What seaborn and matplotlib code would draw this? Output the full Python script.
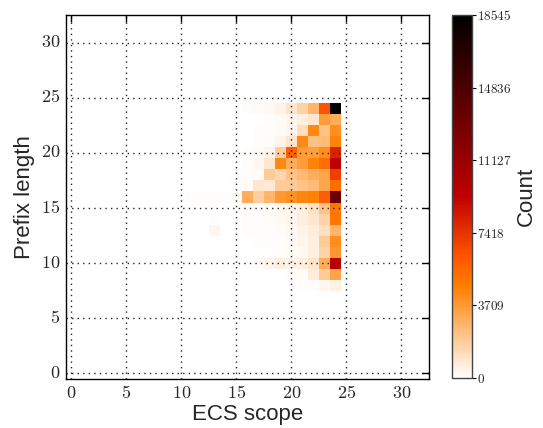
import numpy as np
import pandas as pd
import matplotlib
matplotlib.use("Agg")
import matplotlib.pyplot as plt
import seaborn as sns

# bins 0..32 on both axes
ecs_scope = list(range(33))
prefix_len = list(range(33))

# counts per prefix length, for ECS scope 10..24 (everything else is 0)
x_first = 10
row_24 = [0, 0, 0, 0, 20, 40, 80, 150, 250, 500, 1000, 1600, 2700, 6300, 18545]
row_23 = [0, 0, 0, 0, 0, 20, 40, 60, 100, 200, 400, 600, 900, 3600, 3000]
row_22 = [0, 0, 0, 0, 0, 20, 40, 80, 120, 200, 300, 1200, 4300, 2200, 4100]
row_21 = [0, 0, 0, 0, 0, 30, 60, 100, 150, 400, 1000, 4300, 2300, 2500, 4500]
row_20 = [40, 40, 50, 50, 50, 60, 100, 150, 400, 1800, 5800, 3600, 3500, 4200, 8000]
row_19 = [40, 40, 50, 50, 60, 60, 100, 350, 900, 4300, 3000, 3600, 4500, 5300, 9300]
row_18 = [50, 50, 60, 60, 60, 80, 80, 200, 1900, 1500, 2200, 2600, 3000, 3300, 7000]
row_17 = [60, 60, 60, 60, 70, 80, 200, 900, 800, 1900, 2000, 2200, 2500, 3300, 5300]
row_16 = [60, 80, 100, 100, 100, 200, 3000, 1800, 2700, 3700, 4000, 4400, 4500, 5900, 13300]
row_15 = [30, 40, 40, 40, 40, 50, 80, 100, 150, 250, 400, 600, 1100, 2200, 5000]
row_14 = [20, 30, 30, 80, 30, 40, 100, 120, 150, 250, 350, 600, 900, 1600, 5000]
row_13 = [20, 20, 30, 300, 20, 30, 80, 100, 120, 150, 250, 500, 700, 1200, 2700]
row_12 = [10, 60, 20, 20, 20, 20, 40, 80, 100, 120, 200, 400, 600, 1900, 4200]
row_11 = [0, 10, 10, 10, 10, 20, 30, 50, 60, 100, 150, 250, 600, 1600, 3800]
row_10 = [0, 0, 0, 0, 0, 20, 40, 100, 400, 600, 500, 600, 1000, 3000, 9600]
row_9 = [0, 0, 0, 0, 0, 0, 10, 20, 40, 60, 100, 200, 700, 1900, 3400]
row_8 = [0, 0, 0, 0, 0, 0, 0, 0, 10, 20, 40, 80, 100, 350, 550]

rows = {24: row_24, 23: row_23, 22: row_22, 21: row_21, 20: row_20,
        19: row_19, 18: row_18, 17: row_17, 16: row_16, 15: row_15,
        14: row_14, 13: row_13, 12: row_12, 11: row_11, 10: row_10,
        9: row_9, 8: row_8}

counts = np.zeros((len(prefix_len), len(ecs_scope)))
for y, vals in rows.items():
    counts[y, x_first:x_first + len(vals)] = vals
df = pd.DataFrame(counts, index=prefix_len, columns=ecs_scope)

vmax = 18545
cbar_ticks = np.linspace(0, vmax, 6)
tick_vals = [0, 5, 10, 15, 20, 25, 30]

sns.set_style("white")
plt.rcParams["font.family"] = ["Liberation Sans", "DejaVu Sans"]
plt.rcParams["mathtext.fontset"] = "cm"

fig = plt.figure(figsize=(5.43, 4.28), dpi=100)
ax = fig.add_axes([0.121, 0.1145, 0.669, 0.8505])
cax = fig.add_axes([0.832, 0.117, 0.037, 0.848])

sns.heatmap(df, ax=ax, cbar_ax=cax, cmap="gist_heat_r", vmin=0, vmax=vmax,
            cbar_kws={"ticks": cbar_ticks})
ax.invert_yaxis()

pos = [v + 0.5 for v in tick_vals]
ax.set_xticks(pos, [f"${v}$" for v in tick_vals], rotation=0)
ax.set_yticks(pos, [f"${v}$" for v in tick_vals], rotation=0)
ax.tick_params(direction="in", length=5, width=1, color="k", top=True, right=True,
               labelsize=13, pad=4)
ax.set_axisbelow(False)
ax.grid(True, color="#222222", linestyle=(0, (1, 3)), linewidth=1)
for s in ax.spines.values():
    s.set_visible(True)
    s.set_color("k")
    s.set_linewidth(1)

ax.set_xlabel("ECS scope", fontsize=16, labelpad=2)
ax.set_ylabel("Prefix length", fontsize=16, labelpad=4)

cbar = ax.collections[0].colorbar
cbar.set_ticks(cbar_ticks, labels=[f"${int(round(t))}$" for t in cbar_ticks])
cbar.ax.tick_params(labelsize=9.5, direction="out", length=3, pad=1, color="k")
cbar.outline.set_linewidth(1)
cbar.outline.set_edgecolor("#444444")
cbar.set_label("Count", fontsize=16, labelpad=3)

fig.savefig("out.png", dpi=100)
